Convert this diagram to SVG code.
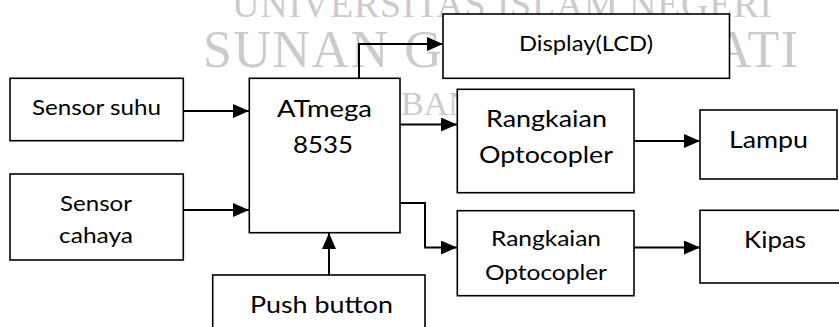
<svg xmlns="http://www.w3.org/2000/svg" width="839" height="327" viewBox="0 0 839 327">
<style>
.bg{fill:#ffffff}
.wm{font-family:"Liberation Serif","DejaVu Serif",serif;fill:#cbcbcb}
.box{fill:#ffffff;stroke:#000000;stroke-width:1.6}
.t{font-family:Lato,"Liberation Sans",sans-serif;fill:#000000;text-anchor:middle}
.big{font-size:23px}
.sm{font-size:21px}
.c{fill:none;stroke:#000000;stroke-width:2}
</style>
<defs>
<marker id="ah" markerUnits="userSpaceOnUse" markerWidth="16" markerHeight="14" refX="16" refY="7" orient="auto">
<path d="M0,0 L16,7 L0,14 Z" fill="#000000"/>
</marker>
</defs>
<rect class="bg" x="0" y="0" width="839" height="327"/>
<g id="watermark">
<text class="wm" x="232" y="17" font-size="38" textLength="540" lengthAdjust="spacing">UNIVERSITAS ISLAM NEGERI</text>
<text class="wm" x="203" y="67" font-size="52" textLength="595" lengthAdjust="spacing">SUNAN GUNUNG DJATI</text>
<text class="wm" x="401" y="115" font-size="34">BANDUNG</text>
</g>
<g id="connectors">
<path class="c" d="M183,111 H249" marker-end="url(#ah)"/>
<path class="c" d="M183,210 H249" marker-end="url(#ah)"/>
<path class="c" d="M329,275 V233" marker-end="url(#ah)"/>
<path class="c" d="M359,78 V44 H443" marker-end="url(#ah)"/>
<path class="c" d="M400,124.5 H457" marker-end="url(#ah)"/>
<path class="c" d="M400,203 H425 V247.5 H457" marker-end="url(#ah)"/>
<path class="c" d="M634,141 H700" marker-end="url(#ah)"/>
<path class="c" d="M634,247.5 H700" marker-end="url(#ah)"/>
</g>
<g id="sensor-suhu">
<rect class="box" x="10" y="78.3" width="173.3" height="62.4"/>
<text class="t sm" x="96.5" y="115" textLength="129" lengthAdjust="spacingAndGlyphs">Sensor suhu</text>
</g>
<g id="sensor-cahaya">
<rect class="box" x="10" y="174" width="173.3" height="86"/>
<text class="t sm" x="96" y="210.5" textLength="72" lengthAdjust="spacingAndGlyphs">Sensor</text>
<text class="t sm" x="96" y="242.5" textLength="74" lengthAdjust="spacingAndGlyphs">cahaya</text>
</g>
<g id="atmega">
<rect class="box" x="249.3" y="78.3" width="150.7" height="154.4"/>
<text class="t big" x="324.5" y="116.5" textLength="95" lengthAdjust="spacingAndGlyphs">ATmega</text>
<text class="t big" x="323" y="153" textLength="60" lengthAdjust="spacingAndGlyphs">8535</text>
</g>
<g id="push-button">
<rect class="box" x="212.7" y="275" width="212.3" height="70"/>
<text class="t big" x="321.5" y="313" textLength="143" lengthAdjust="spacingAndGlyphs">Push button</text>
</g>
<g id="display">
<rect class="box" x="443" y="14" width="286.5" height="64.3"/>
<text class="t sm" x="586" y="51" textLength="134" lengthAdjust="spacingAndGlyphs">Display(LCD)</text>
</g>
<g id="optocopler-1">
<rect class="box" x="457.3" y="89.3" width="176.7" height="103.4"/>
<text class="t big" x="546.5" y="126.5" textLength="121" lengthAdjust="spacingAndGlyphs">Rangkaian</text>
<text class="t big" x="546" y="163" textLength="134" lengthAdjust="spacingAndGlyphs">Optocopler</text>
</g>
<g id="optocopler-2">
<rect class="box" x="457.3" y="210.7" width="176.7" height="85"/>
<text class="t sm" x="546" y="246" textLength="110" lengthAdjust="spacingAndGlyphs">Rangkaian</text>
<text class="t sm" x="546" y="280" textLength="122" lengthAdjust="spacingAndGlyphs">Optocopler</text>
</g>
<g id="lampu">
<rect class="box" x="700" y="110" width="137" height="69"/>
<text class="t big" x="768.5" y="148" textLength="79" lengthAdjust="spacingAndGlyphs">Lampu</text>
</g>
<g id="kipas">
<rect class="box" x="700" y="210.3" width="151" height="72.7"/>
<text class="t big" x="775" y="248" textLength="62" lengthAdjust="spacingAndGlyphs">Kipas</text>
</g>
</svg>
